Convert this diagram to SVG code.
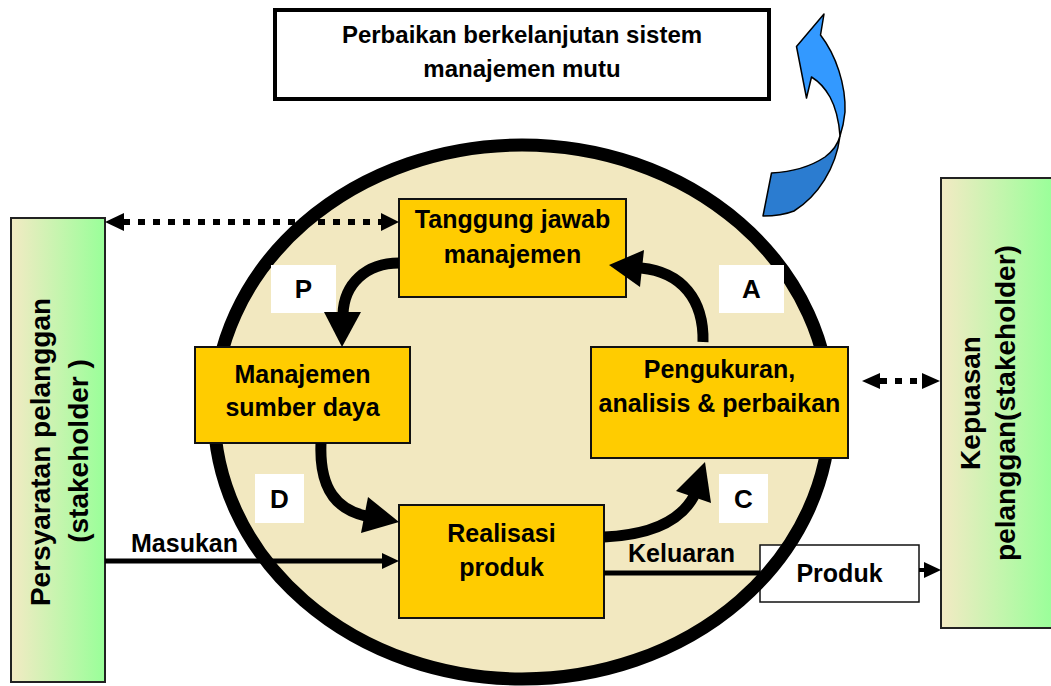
<svg xmlns="http://www.w3.org/2000/svg" width="1051" height="686" viewBox="0 0 1051 686">
<defs>
<linearGradient id="sideGrad" x1="0" y1="0" x2="1" y2="0">
<stop offset="0" stop-color="#F3EAC4"/>
<stop offset="1" stop-color="#99FF99"/>
</linearGradient>
<style>
text{font-family:"Liberation Sans",Arial,sans-serif;font-weight:bold;fill:#000}
.box{fill:#FFCC00;stroke:#111;stroke-width:2}
.lbl{font-size:25px;text-anchor:middle}
.let{fill:#fff}
.letter{font-size:26px;text-anchor:middle}
.side{fill:url(#sideGrad);stroke:#222;stroke-width:2}
.sidet{font-size:28px;text-anchor:middle}
.dot{stroke:#000;stroke-width:6;stroke-dasharray:7 8;fill:none}
.solid{stroke:#000;fill:none}
.curve{stroke:#000;stroke-width:11;fill:none}
.head{fill:#000}
</style>
</defs>
<rect width="1051" height="686" fill="#fff"/>

<g id="cycle-ellipse-fill">
<ellipse cx="522" cy="412" rx="308" ry="267" fill="#F2E8C0"/>
</g>

<g id="node-produk">
<rect x="760" y="545" width="159" height="57" fill="#fff" stroke="#111" stroke-width="1.5"/>
<text x="839.5" y="582" class="lbl">Produk</text>
</g>

<g id="cycle-ellipse-stroke">
<ellipse cx="522" cy="412" rx="308" ry="267" fill="none" stroke="#000" stroke-width="13"/>
</g>

<g id="node-top">
<rect x="275" y="10" width="494" height="89" fill="#fff" stroke="#000" stroke-width="4"/>
<text x="522" y="43" class="lbl" style="font-size:24px">Perbaikan berkelanjutan sistem</text>
<text x="522" y="77" class="lbl" style="font-size:24px">manajemen mutu</text>
</g>

<g id="node-blue-arrow" stroke="#000" stroke-width="1.5" stroke-linejoin="round">
<path d="M840 136 C836 168 818 196 794 211 C784 215 774 216 763 216 L771.5 173 C790 172 810 167 825 157 C833 151 838 144 840 136 Z" fill="#2B7CD0"/>
<path d="M824 14 L820.5 35 C836 55 846 85 845 112 C844 122 842 130 840 136 C839 122 836 108 830 97 C825 88 818 81 811.5 77 L806.5 98 L796.5 46.5 Z" fill="#3399FF"/>
</g>

<g id="node-left">
<rect x="11" y="218" width="94" height="464" class="side"/>
<text transform="translate(50,452) rotate(-90)" class="sidet">Persyaratan pelanggan</text>
<text transform="translate(88,451) rotate(-90)" class="sidet">(stakeholder )</text>
</g>

<g id="node-right">
<rect x="941" y="178" width="112" height="450" class="side"/>
<text transform="translate(980,403) rotate(-90)" class="sidet">Kepuasan</text>
<text transform="translate(1015,403) rotate(-90)" class="sidet">pelanggan(stakeholder)</text>
</g>

<g id="node-tanggung">
<rect x="399" y="199" width="227" height="98" class="box"/>
<text x="512.5" y="228" class="lbl">Tanggung jawab</text>
<text x="512.5" y="263" class="lbl">manajemen</text>
</g>

<g id="node-manajemen">
<rect x="195" y="347" width="215" height="96" class="box"/>
<text x="302.5" y="383" class="lbl">Manajemen</text>
<text x="302.5" y="416" class="lbl">sumber daya</text>
</g>

<g id="node-pengukuran">
<rect x="591" y="347" width="257" height="111" class="box"/>
<text x="719.5" y="378" class="lbl">Pengukuran,</text>
<text x="719.5" y="412" class="lbl">analisis &amp; perbaikan</text>
</g>

<g id="node-realisasi">
<rect x="399" y="505" width="205" height="113" class="box"/>
<text x="501.5" y="542" class="lbl">Realisasi</text>
<text x="501.5" y="576" class="lbl">produk</text>
</g>

<g id="label-P"><rect x="271" y="265" width="65" height="48" class="let"/><text x="303.5" y="298" class="letter">P</text></g>
<g id="label-A"><rect x="719" y="265" width="65" height="48" class="let"/><text x="751.5" y="298" class="letter">A</text></g>
<g id="label-D"><rect x="255" y="474" width="49" height="49" class="let"/><text x="279.5" y="508" class="letter">D</text></g>
<g id="label-C"><rect x="719" y="474" width="49" height="49" class="let"/><text x="743.5" y="508" class="letter">C</text></g>

<g id="connectors">
<line x1="123" y1="222" x2="382" y2="222" class="dot"/>
<polygon points="105,222 124,213 124,231" class="head"/>
<polygon points="399,222 381,213 381,231" class="head"/>

<line x1="880" y1="381" x2="923" y2="381" class="dot"/>
<polygon points="862,381 880,373 880,389" class="head"/>
<polygon points="940,381 922,373 922,389" class="head"/>

<line x1="105" y1="561" x2="385" y2="561" class="solid" stroke-width="5"/>
<polygon points="399,561 382,553 382,569" class="head"/>
<text x="131" y="552" style="font-size:25px">Masukan</text>

<line x1="604" y1="573" x2="760" y2="573" class="solid" stroke-width="5"/>
<text x="628" y="562" style="font-size:25px">Keluaran</text>

<line x1="919" y1="570" x2="926" y2="570" class="solid" stroke-width="4"/>
<polygon points="941,570 924,562 924,578" class="head"/>

<path d="M399 263 C366 263 344 284 343 314" class="curve"/>
<polygon points="342,347 324,312 361,312" class="head"/>

<path d="M703 342 C704 300 682 272 641 268" class="curve"/>
<polygon points="609,265 644,250 640,287" class="head"/>

<path d="M321 443 C319 490 338 510 366 516" class="curve"/>
<polygon points="399,522 368,497 361,533" class="head"/>

<path d="M604 537 C650 535 680 522 694 496" class="curve"/>
<polygon points="705,462 676,491 711,503" class="head"/>
</g>
</svg>
